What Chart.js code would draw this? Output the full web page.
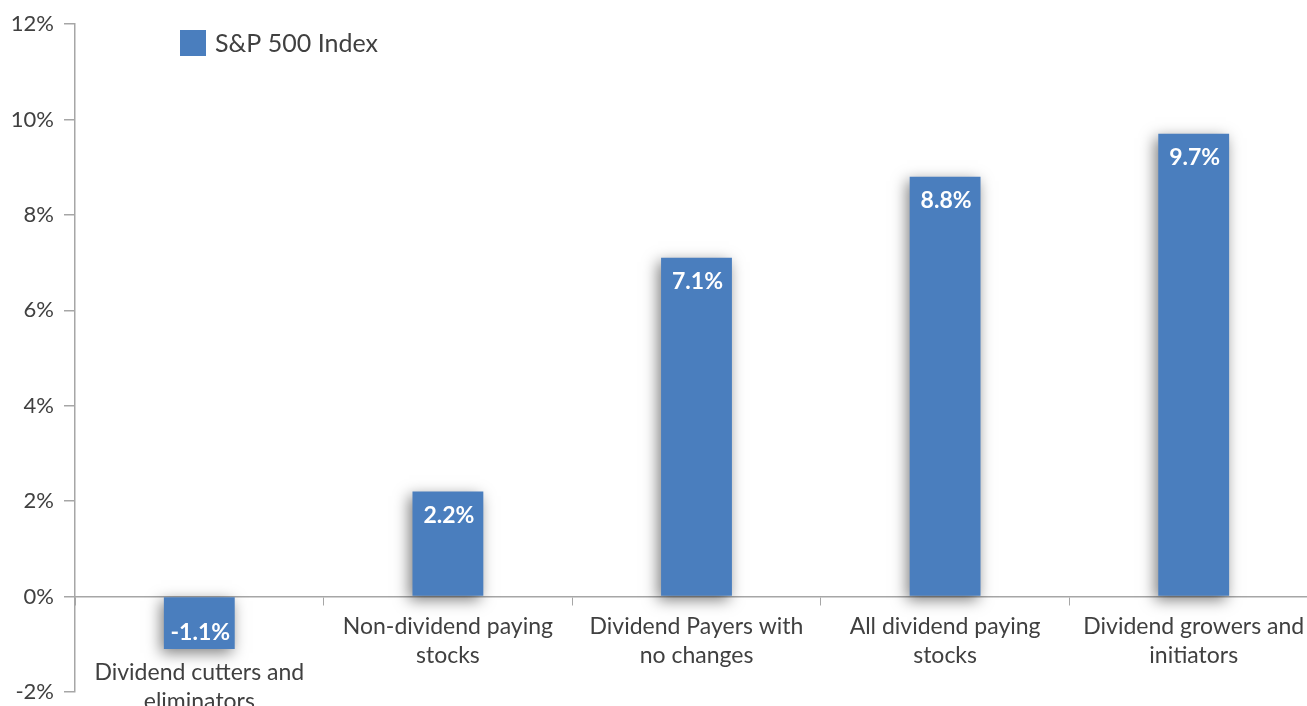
<!DOCTYPE html>
<html>
<head>
<meta charset="utf-8">
<script src="https://cdn.jsdelivr.net/npm/chart.js@4.4.1/dist/chart.umd.min.js"></script>
<style>
  html, body { margin: 0; padding: 0; background: #ffffff; overflow: hidden; }
  #wrap { width: 1307px; height: 706px; position: relative; overflow: hidden; }
</style>
</head>
<body>
<div id="wrap"><canvas id="c" width="1318" height="706"></canvas></div>
<script>
const categories = [
  ['Dividend cutters and', 'eliminators'],
  ['Non-dividend paying', 'stocks'],
  ['Dividend Payers with', 'no changes'],
  ['All dividend paying', 'stocks'],
  ['Dividend growers and', 'initiators']
];
const seriesName = 'S&P 500 Index';
const seriesValues = [-1.1, 2.2, 7.1, 8.8, 9.7];
const yTickValues = [-2, 0, 2, 4, 6, 8, 10, 12];

const BAR_COLOR = '#4a7ebe';
const AXIS_COLOR = '#a6a6a6';
const TEXT_COLOR = '#404040';
const FONT = 'Lato, "Open Sans", sans-serif';

const shadowPlugin = {
  id: 'barShadow',
  beforeDatasetsDraw(chart) {
    const ctx = chart.ctx;
    ctx.save();
    ctx.shadowColor = 'rgba(0,0,0,0.5)';
    ctx.shadowBlur = 14;
    ctx.shadowOffsetX = -3;
    ctx.shadowOffsetY = 4;
  },
  afterDatasetsDraw(chart) {
    chart.ctx.restore();
  }
};

const valueLabelPlugin = {
  id: 'valueLabels',
  afterDatasetsDraw(chart) {
    const ctx = chart.ctx;
    const meta = chart.getDatasetMeta(0);
    const data = chart.data.datasets[0].data;
    ctx.save();
    ctx.fillStyle = '#ffffff';
    ctx.font = 'bold 23px ' + FONT;
    ctx.textAlign = 'center';
    ctx.textBaseline = 'middle';
    meta.data.forEach((el, i) => {
      const v = data[i];
      const y = v >= 0 ? el.y + 24 : el.y - 16;
      ctx.fillText(v.toFixed(1) + '%', el.x + 1, y);
    });
    ctx.restore();
  }
};

const legendPlugin = {
  id: 'innerLegend',
  afterDraw(chart) {
    const ctx = chart.ctx;
    const a = chart.chartArea;
    const x = a.left + 105, y = a.top + 6;
    ctx.save();
    ctx.fillStyle = chart.data.datasets[0].backgroundColor;
    ctx.fillRect(x, y, 26, 26);
    ctx.fillStyle = TEXT_COLOR;
    ctx.font = '25px ' + FONT;
    ctx.textAlign = 'left';
    ctx.textBaseline = 'middle';
    ctx.fillText(chart.data.datasets[0].label, x + 35, y + 14);
    ctx.restore();
  }
};

const catFont = { family: FONT, size: 23, lineHeight: 1.26 };

new Chart(document.getElementById('c'), {
  type: 'bar',
  data: {
    labels: categories,
    datasets: [{
      label: seriesName,
      data: seriesValues,
      backgroundColor: BAR_COLOR,
      borderWidth: 0,
      categoryPercentage: 1,
      barPercentage: 0.285
    }]
  },
  options: {
    responsive: false,
    animation: false,
    devicePixelRatio: 1,
    layout: { padding: { top: 24, bottom: 14, left: 0, right: 0 } },
    plugins: {
      legend: { display: false },
      tooltip: { enabled: false }
    },
    scales: {
      x: {
        type: 'category',
        position: { y: 0 },
        offset: true,
        grid: {
          offset: true,
          drawOnChartArea: false,
          drawTicks: true,
          tickLength: 8,
          color: AXIS_COLOR,
          lineWidth: 1
        },
        border: { display: true, color: AXIS_COLOR, width: 1.5 },
        ticks: {
          color: TEXT_COLOR,
          font: catFont,
          padding: 8,
          maxRotation: 0,
          autoSkip: false,
          callback: function(value, index) { return index === 0 ? '' : this.getLabelForValue(value); }
        }
      },
      x2: {
        type: 'category',
        labels: categories,
        position: { y: 0 },
        offset: true,
        grid: { display: false, drawTicks: false, offset: true },
        border: { display: false },
        ticks: {
          color: TEXT_COLOR,
          font: catFont,
          padding: 62,
          maxRotation: 0,
          autoSkip: false,
          callback: function(value, index) { return index === 0 ? this.getLabelForValue(value) : ''; }
        }
      },
      y: {
        type: 'linear',
        min: -2,
        max: 12,
        afterFit(scale) {
          scale.width = 75;
          scale.paddingTop = 0;
          scale.paddingBottom = 0;
        },
        afterBuildTicks(scale) { scale.ticks = yTickValues.map(v => ({ value: v })); },
        grid: {
          drawOnChartArea: false,
          drawTicks: true,
          tickLength: 11,
          color: AXIS_COLOR,
          lineWidth: 1.5
        },
        border: { display: true, color: AXIS_COLOR, width: 1.5 },
        ticks: {
          color: TEXT_COLOR,
          font: { family: FONT, size: 22 },
          padding: 10,
          callback: v => v + '%'
        }
      }
    }
  },
  plugins: [shadowPlugin, valueLabelPlugin, legendPlugin]
});
</script>
</body>
</html>
